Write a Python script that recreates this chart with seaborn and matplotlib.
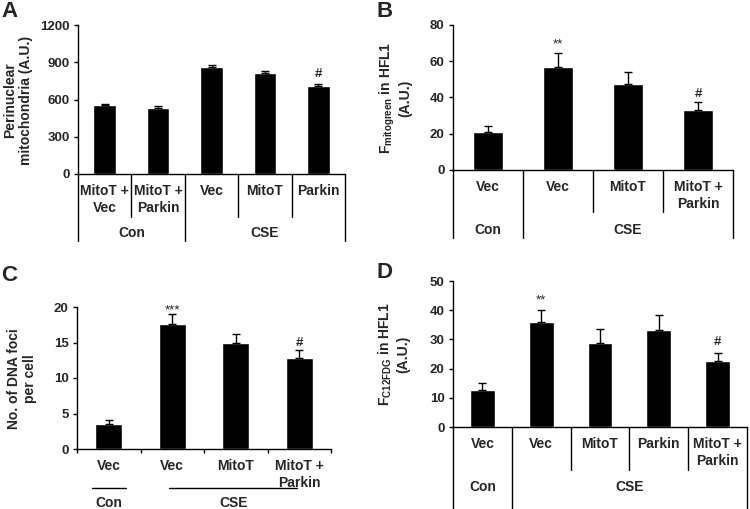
import numpy as np
import matplotlib.pyplot as plt
import matplotlib.transforms as mtransforms
import pandas as pd
import seaborn as sns

# Panel A - perinuclear mitochondria
a_groups = ['Con', 'Con', 'CSE', 'CSE', 'CSE']
a_labels = ['MitoT +\nVec', 'MitoT +\nParkin', 'Vec', 'MitoT', 'Parkin']
a_values = [555, 535, 858, 816, 707]
a_errors = [10, 9, 17, 12, 14]
a_marks = ['', '', '', '', '#']

# Panel B - mitogreen
b_groups = ['Con', 'CSE', 'CSE', 'CSE']
b_labels = ['Vec', 'Vec', 'MitoT', 'MitoT +\nParkin']
b_values = [21.0, 57.0, 47.3, 33.2]
b_errors = [3.0, 7.3, 6.5, 4.2]
b_marks = ['', '**', '', '#']

# Panel C - DNA foci
c_groups = ['Con', 'CSE', 'CSE', 'CSE']
c_labels = ['Vec', 'Vec', 'MitoT', 'MitoT +\nParkin']
c_values = [3.5, 17.6, 14.9, 12.8]
c_errors = [0.6, 1.4, 1.3, 1.2]
c_marks = ['', '***', '', '#']

# Panel D - C12FDG
d_groups = ['Con', 'CSE', 'CSE', 'CSE', 'CSE']
d_labels = ['Vec', 'Vec', 'MitoT', 'Parkin', 'MitoT +\nParkin']
d_values = [12.6, 35.8, 28.9, 33.1, 22.6]
d_errors = [2.4, 4.3, 4.5, 5.3, 2.9]
d_marks = ['', '**', '', '', '#']

sns.set_style('ticks')
plt.rcParams['font.family'] = ['Liberation Sans', 'DejaVu Sans']
plt.rcParams['font.weight'] = 'bold'
plt.rcParams['mathtext.fontset'] = 'custom'
plt.rcParams['mathtext.rm'] = 'Liberation Sans:bold'
plt.rcParams['mathtext.it'] = 'Liberation Sans:bold'
plt.rcParams['mathtext.bf'] = 'Liberation Sans:bold'

W, H = 750, 509
FS = 10
fig = plt.figure(figsize=(W / 100, H / 100), dpi=100)


def add_box(l, t, r, b):
    return fig.add_axes([l / W, 1 - b / H, (r - l) / W, (b - t) / H])


def bars(ax, groups, labels, values, errors, marks, offsets, ymax, ystep):
    df = pd.DataFrame({'key': [f'{g} {l}' for g, l in zip(groups, labels)], 'value': values})
    sns.barplot(data=df, x='key', y='value', color='black', saturation=1,
                width=0.42, errorbar=None, ax=ax)
    x = np.arange(len(values))
    ax.errorbar(x, values, yerr=[np.zeros(len(values)), errors], fmt='none',
                ecolor='black', elinewidth=1, capsize=3, capthick=1)
    for i, m in enumerate(marks):
        if m:
            ax.annotate(m, xy=(i, values[i] + errors[i]), xytext=(0, offsets[m]),
                        textcoords='offset points', ha='center', va='baseline',
                        fontsize=9.5, fontweight='bold' if m == '#' else 'normal')
    ax.set_xlim(-0.5, len(values) - 0.5)
    ax.set_ylim(0, ymax)
    ax.set_yticks(np.arange(0, ymax + 1e-9, ystep))
    ax.set_xticks(x)
    ax.set_xticklabels(labels, fontsize=FS, fontweight='bold')
    ax.tick_params(axis='x', length=0, pad=7.5)
    ax.tick_params(axis='y', length=3, width=1, pad=3, labelsize=9.5, color='black')
    for lab in ax.get_yticklabels():
        lab.set_fontweight('bold')
    ax.set_xlabel('')
    ax.set_ylabel('')
    sns.despine(ax=ax)
    for s in ['left', 'bottom']:
        ax.spines[s].set_color('black')
        ax.spines[s].set_linewidth(1)


def separators(ax, groups, short_px, long_px, label_px):
    trans = mtransforms.blended_transform_factory(ax.transData, fig.transFigure)
    y0 = ax.get_position().y0
    n = len(groups)
    for k in range(n + 1):
        x = k - 0.5
        is_long = k == 0 or k == n or groups[k] != groups[k - 1]
        yb = 1 - (long_px if is_long else short_px) / H
        ax.plot([x, x], [y0, yb], transform=trans, color='black', lw=1, clip_on=False)
    for g in dict.fromkeys(groups):
        idx = [i for i, gg in enumerate(groups) if gg == g]
        ax.text((min(idx) + max(idx)) / 2, 1 - label_px / H, g, transform=trans,
                ha='center', va='center', fontsize=FS, fontweight='bold')


# A
ax = add_box(78, 25, 345, 174)
bars(ax, a_groups, a_labels, a_values, a_errors, a_marks, {'#': 5.5}, 1200, 300)
separators(ax, a_groups, 217, 241, 233)
fig.text(18 / W, 1 - 100 / H, 'Perinuclear\nmitochondria (A.U.)', rotation=90,
         ha='center', va='center', fontsize=FS, fontweight='bold')
fig.text(1 / W, 1 - 1 / H, 'A', ha='left', va='top', fontsize=16, fontweight='bold')

# B
ax = add_box(453, 25, 733, 170)
bars(ax, b_groups, b_labels, b_values, b_errors, b_marks, {'**': 4.5, '#': 4.0}, 80, 20)
separators(ax, b_groups, 212, 238, 230)
fig.text(395 / W, 1 - 98 / H, 'F$_{mitogreen}$ in HFL1\n(A.U.)', rotation=90,
         ha='center', va='center', fontsize=FS, fontweight='bold')
fig.text(376 / W, 1 - 1 / H, 'B', ha='left', va='top', fontsize=16, fontweight='bold')

# C
ax = add_box(77, 307, 331, 449)
bars(ax, c_groups, c_labels, c_values, c_errors, c_marks, {'***': 0.5, '#': 2.5}, 20, 5)
ax.set_xticks(np.arange(-0.5, len(c_values)), minor=True)
ax.tick_params(axis='x', which='minor', length=3, width=1, color='black')
trans = mtransforms.blended_transform_factory(ax.transData, fig.transFigure)
for (x0, x1), g in zip([(-0.27, 0.27), (0.95, 2.97)], ['Con', 'CSE']):
    ax.plot([x0, x1], [1 - 488 / H] * 2, transform=trans, color='black', lw=1, clip_on=False)
    ax.text((x0 + x1) / 2, 1 - 503 / H, g, transform=trans, ha='center', va='center',
            fontsize=FS, fontweight='bold')
fig.text(22 / W, 1 - 379 / H, 'No. of DNA foci\nper cell', rotation=90,
         ha='center', va='center', fontsize=FS, fontweight='bold')
fig.text(1 / W, 1 - 265 / H, 'C', ha='left', va='top', fontsize=16, fontweight='bold')

# D
ax = add_box(453, 281, 747, 427)
bars(ax, d_groups, d_labels, d_values, d_errors, d_marks, {'**': 4.5, '#': 5.5}, 50, 10)
separators(ax, d_groups, 470, 515, 487)
fig.text(393 / W, 1 - 354 / H, 'F$_{C12FDG}$ in HFL1\n(A.U.)', rotation=90,
         ha='center', va='center', fontsize=FS, fontweight='bold')
fig.text(376 / W, 1 - 262 / H, 'D', ha='left', va='top', fontsize=16, fontweight='bold')

fig.savefig('out.png', dpi=100)
